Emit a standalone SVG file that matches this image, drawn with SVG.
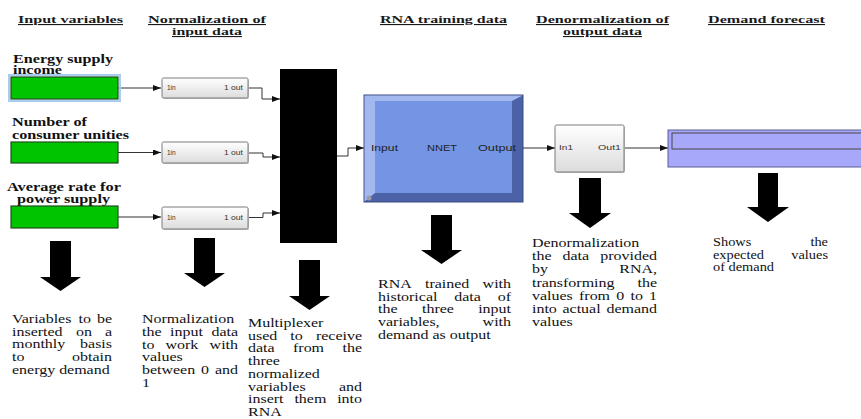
<svg xmlns="http://www.w3.org/2000/svg" width="861" height="419" viewBox="0 0 861 419">
<defs>
<style>
.hdr{font-family:"Liberation Serif","Times New Roman",serif;font-weight:bold;font-size:11px;fill:#1a1a1a;text-decoration:underline}
.lbl{font-family:"Liberation Serif","Times New Roman",serif;font-weight:bold;font-size:11.5px;fill:#111}
.b{font-family:"Liberation Serif","Times New Roman",serif;font-size:11.5px;fill:#111}
.e{text-anchor:end}
.port{font-family:"Liberation Sans",Arial,sans-serif;font-size:6.5px;fill:#333}
.nlab{font-family:"Liberation Sans",Arial,sans-serif;font-size:8.5px;fill:#222}
.green{fill:#00C400;stroke:#1f4f1f;stroke-width:1.2}
.blk{fill:url(#gw);stroke:#7a7a7a;stroke-width:1}
.wire{fill:none;stroke:#333;stroke-width:1;marker-end:url(#ah)}
.big{fill:#000}
</style>
<linearGradient id="gw" x1="0" y1="0" x2="0" y2="1">
<stop offset="0" stop-color="#ffffff"/>
<stop offset="1" stop-color="#dcdcdc"/>
</linearGradient>
<marker id="ah" markerUnits="userSpaceOnUse" markerWidth="8" markerHeight="6" refX="8" refY="3" orient="auto">
<path d="M0,0 L8,3 L0,6 z" fill="#111"/>
</marker>
</defs>
<rect width="861" height="419" fill="#fff"/>

<g id="headers">
<text class="hdr" x="18" y="23" textLength="105" lengthAdjust="spacingAndGlyphs">Input variables</text>
<text class="hdr" x="148" y="23" textLength="118" lengthAdjust="spacingAndGlyphs">Normalization of</text>
<text class="hdr" x="172" y="35" textLength="70" lengthAdjust="spacingAndGlyphs">input data</text>
<text class="hdr" x="380" y="23" textLength="127" lengthAdjust="spacingAndGlyphs">RNA training data</text>
<text class="hdr" x="536" y="23" textLength="133" lengthAdjust="spacingAndGlyphs">Denormalization of</text>
<text class="hdr" x="563" y="35" textLength="79" lengthAdjust="spacingAndGlyphs">output data</text>
<text class="hdr" x="708" y="23" textLength="117" lengthAdjust="spacingAndGlyphs">Demand forecast</text>
</g>

<g id="connectors">
<path class="wire" d="M118 88 H161"/>
<path class="wire" d="M118 152.5 H161"/>
<path class="wire" d="M118 217 H161"/>
<path class="wire" d="M248 88 H262 V99 H280"/>
<path class="wire" d="M248 153 H263 V157 H280"/>
<path class="wire" d="M248 217.5 H263 V213 H280"/>
<path class="wire" d="M337 156 H348 V148 H364"/>
<path class="wire" d="M523 148 H555"/>
<path class="wire" d="M624 148 H668"/>
</g>

<g id="energy-supply-income">
<text class="lbl" x="13" y="62.5" textLength="100" lengthAdjust="spacingAndGlyphs">Energy supply</text>
<text class="lbl" x="13" y="74" textLength="49" lengthAdjust="spacingAndGlyphs">income</text>
<rect x="9" y="75" width="111" height="26" fill="none" stroke="#a9cdf2" stroke-width="2"/>
<rect class="green" x="11" y="77" width="107" height="22"/>
</g>
<g id="number-of-consumer-unities">
<text class="lbl" x="12" y="126" textLength="75" lengthAdjust="spacingAndGlyphs">Number of</text>
<text class="lbl" x="12" y="138.5" textLength="117" lengthAdjust="spacingAndGlyphs">consumer unities</text>
<rect class="green" x="11" y="142" width="107" height="21"/>
</g>
<g id="average-rate">
<text class="lbl" x="7" y="190.5" textLength="114" lengthAdjust="spacingAndGlyphs">Average rate for</text>
<text class="lbl" x="17" y="203" textLength="93" lengthAdjust="spacingAndGlyphs">power supply</text>
<rect class="green" x="11" y="206" width="107" height="22"/>
</g>

<g id="norm-1">
<rect x="163" y="79" width="86" height="20" rx="1.5" fill="#c8c8c8"/>
<rect class="blk" x="162" y="78" width="86" height="20" rx="1.5"/>
<text class="port" x="167" y="90">1in</text>
<text class="port" x="224" y="90" textLength="19" lengthAdjust="spacingAndGlyphs">1 out</text>
</g>
<g id="norm-2">
<rect x="163" y="143" width="86" height="21" rx="1.5" fill="#c8c8c8"/>
<rect class="blk" x="162" y="142" width="86" height="21" rx="1.5"/>
<text class="port" x="167" y="155">1in</text>
<text class="port" x="224" y="155" textLength="19" lengthAdjust="spacingAndGlyphs">1 out</text>
</g>
<g id="norm-3">
<rect x="163" y="208" width="86" height="22" rx="1.5" fill="#c8c8c8"/>
<rect class="blk" x="162" y="207" width="86" height="22" rx="1.5"/>
<text class="port" x="167" y="220">1in</text>
<text class="port" x="224" y="220" textLength="19" lengthAdjust="spacingAndGlyphs">1 out</text>
</g>

<g id="mux">
<rect x="280" y="69" width="57" height="174" fill="#000"/>
</g>

<g id="nnet">
<rect x="364" y="95" width="159" height="107" fill="#4b62a6" stroke="#3a4a80" stroke-width="1"/>
<polygon points="364.5,95.5 522.5,95.5 512,101 375,101 375,193 364.5,201.5" fill="#a4b8f0"/>
<rect x="375" y="101" width="137" height="92" fill="#7494e4"/>
<circle cx="369" cy="198" r="2.5" fill="#9a9aa8"/>
<text class="nlab" x="371" y="151" textLength="27" lengthAdjust="spacingAndGlyphs">Input</text>
<text class="nlab" x="427" y="151" textLength="30" lengthAdjust="spacingAndGlyphs">NNET</text>
<text class="nlab" x="478" y="151" textLength="38" lengthAdjust="spacingAndGlyphs">Output</text>
</g>

<g id="denorm">
<rect x="556" y="126" width="69" height="47" rx="1.5" fill="#c8c8c8"/>
<rect class="blk" x="555" y="125" width="69" height="47" rx="1.5"/>
<text class="port" x="559" y="150" textLength="14" lengthAdjust="spacingAndGlyphs">In1</text>
<text class="port" x="598" y="150" textLength="23" lengthAdjust="spacingAndGlyphs">Out1</text>
</g>

<g id="forecast">
<rect x="668" y="130" width="210" height="37" fill="#a8a8fa" stroke="#5a5a9a" stroke-width="1"/>
<rect x="672" y="133" width="210" height="16" fill="#a8a8fa" stroke="#444" stroke-width="1"/>
</g>

<g id="down-arrows">
<polygon class="big" points="50,241 71,241 71,277 81,277 60.5,291 40,277 50,277"/>
<polygon class="big" points="194,238 215,238 215,273 225,273 204.5,287 184,273 194,273"/>
<polygon class="big" points="299,260 320,260 320,296 330,296 309.5,310 289,296 299,296"/>
<polygon class="big" points="431,215 452,215 452,250 462,250 441.5,264 421,250 431,250"/>
<polygon class="big" points="579,178 601,178 601,213 611,213 590,228 569,213 579,213"/>
<polygon class="big" points="758,173 778,173 778,207 789,207 768,222 747,207 758,207"/>
</g>

<g id="desc-1">
<text class="b" transform="translate(12 323) scale(1.39 1)">Variables</text>
<text class="b" transform="translate(78.6 323) scale(1.39 1)">to</text>
<text class="b e" transform="translate(112 323) scale(1.39 1)">be</text>
<text class="b" transform="translate(12 335.7) scale(1.39 1)">inserted</text>
<text class="b" transform="translate(76 335.7) scale(1.39 1)">on</text>
<text class="b e" transform="translate(112 335.7) scale(1.39 1)">a</text>
<text class="b" transform="translate(12 348.4) scale(1.39 1)">monthly</text>
<text class="b e" transform="translate(112 348.4) scale(1.39 1)">basis</text>
<text class="b" transform="translate(12 361) scale(1.39 1)">to</text>
<text class="b e" transform="translate(112 361) scale(1.39 1)">obtain</text>
<text class="b" transform="translate(12 373.7) scale(1.39 1)">energy demand</text>
</g>

<g id="desc-2">
<text class="b" transform="translate(142 323) scale(1.39 1)">Normalization</text>
<text class="b" transform="translate(142 336) scale(1.39 1)">the</text>
<text class="b" transform="translate(170 336) scale(1.39 1)">input</text>
<text class="b e" transform="translate(238 336) scale(1.39 1)">data</text>
<text class="b" transform="translate(142 348.7) scale(1.39 1)">to</text>
<text class="b" transform="translate(165.5 348.7) scale(1.39 1)">work</text>
<text class="b e" transform="translate(238 348.7) scale(1.39 1)">with</text>
<text class="b" transform="translate(142 361.4) scale(1.39 1)">values</text>
<text class="b" transform="translate(142 374.1) scale(1.39 1)">between</text>
<text class="b" transform="translate(201 374.1) scale(1.39 1)">0</text>
<text class="b e" transform="translate(238 374.1) scale(1.39 1)">and</text>
<text class="b" transform="translate(142 386.8) scale(1.39 1)">1</text>
</g>

<g id="desc-3">
<text class="b" transform="translate(248 327) scale(1.39 1)">Multiplexer</text>
<text class="b" transform="translate(248 339.7) scale(1.39 1)">used</text>
<text class="b" transform="translate(290.3 339.7) scale(1.39 1)">to</text>
<text class="b e" transform="translate(362 339.7) scale(1.39 1)">receive</text>
<text class="b" transform="translate(248 352.4) scale(1.39 1)">data</text>
<text class="b" transform="translate(293 352.4) scale(1.39 1)">from</text>
<text class="b e" transform="translate(362 352.4) scale(1.39 1)">the</text>
<text class="b" transform="translate(248 365.1) scale(1.39 1)">three</text>
<text class="b" transform="translate(248 377.8) scale(1.39 1)">normalized</text>
<text class="b" transform="translate(248 390.5) scale(1.39 1)">variables</text>
<text class="b e" transform="translate(362 390.5) scale(1.39 1)">and</text>
<text class="b" transform="translate(248 403.2) scale(1.39 1)">insert</text>
<text class="b" transform="translate(294.4 403.2) scale(1.39 1)">them</text>
<text class="b e" transform="translate(362 403.2) scale(1.39 1)">into</text>
<text class="b" transform="translate(248 415.9) scale(1.39 1)">RNA</text>
</g>

<g id="desc-4">
<text class="b" transform="translate(378 288) scale(1.39 1)">RNA</text>
<text class="b" transform="translate(425 288) scale(1.39 1)">trained</text>
<text class="b e" transform="translate(511 288) scale(1.39 1)">with</text>
<text class="b" transform="translate(378 300.7) scale(1.39 1)">historical</text>
<text class="b" transform="translate(454.3 300.7) scale(1.39 1)">data</text>
<text class="b e" transform="translate(511 300.7) scale(1.39 1)">of</text>
<text class="b" transform="translate(378 313.4) scale(1.39 1)">the</text>
<text class="b" transform="translate(422 313.4) scale(1.39 1)">three</text>
<text class="b e" transform="translate(511 313.4) scale(1.39 1)">input</text>
<text class="b" transform="translate(378 326.1) scale(1.39 1)">variables,</text>
<text class="b e" transform="translate(511 326.1) scale(1.39 1)">with</text>
<text class="b" transform="translate(378 338.8) scale(1.39 1)">demand as output</text>
</g>

<g id="desc-5">
<text class="b" transform="translate(532 247) scale(1.39 1)">Denormalization</text>
<text class="b" transform="translate(532 260.2) scale(1.39 1)">the</text>
<text class="b" transform="translate(562.5 260.2) scale(1.39 1)">data</text>
<text class="b e" transform="translate(657 260.2) scale(1.39 1)">provided</text>
<text class="b" transform="translate(532 273.4) scale(1.39 1)">by</text>
<text class="b e" transform="translate(657 273.4) scale(1.39 1)">RNA,</text>
<text class="b" transform="translate(532 286.6) scale(1.39 1)">transforming</text>
<text class="b e" transform="translate(657 286.6) scale(1.39 1)">the</text>
<text class="b" transform="translate(532 299.8) scale(1.39 1)">values</text>
<text class="b" transform="translate(579 299.8) scale(1.39 1)">from</text>
<text class="b" transform="translate(616.3 299.8) scale(1.39 1)">0</text>
<text class="b" transform="translate(630.5 299.8) scale(1.39 1)">to</text>
<text class="b e" transform="translate(657 299.8) scale(1.39 1)">1</text>
<text class="b" transform="translate(532 313) scale(1.39 1)">into</text>
<text class="b" transform="translate(562.5 313) scale(1.39 1)">actual</text>
<text class="b e" transform="translate(657 313) scale(1.39 1)">demand</text>
<text class="b" transform="translate(532 326.2) scale(1.39 1)">values</text>
</g>

<g id="desc-6">
<text class="b" transform="translate(713 246) scale(1.25 1)">Shows</text>
<text class="b e" transform="translate(828 246) scale(1.25 1)">the</text>
<text class="b" transform="translate(713 258.5) scale(1.25 1)">expected</text>
<text class="b e" transform="translate(828 258.5) scale(1.25 1)">values</text>
<text class="b" transform="translate(713 271) scale(1.25 1)">of demand</text>
</g>
</svg>
